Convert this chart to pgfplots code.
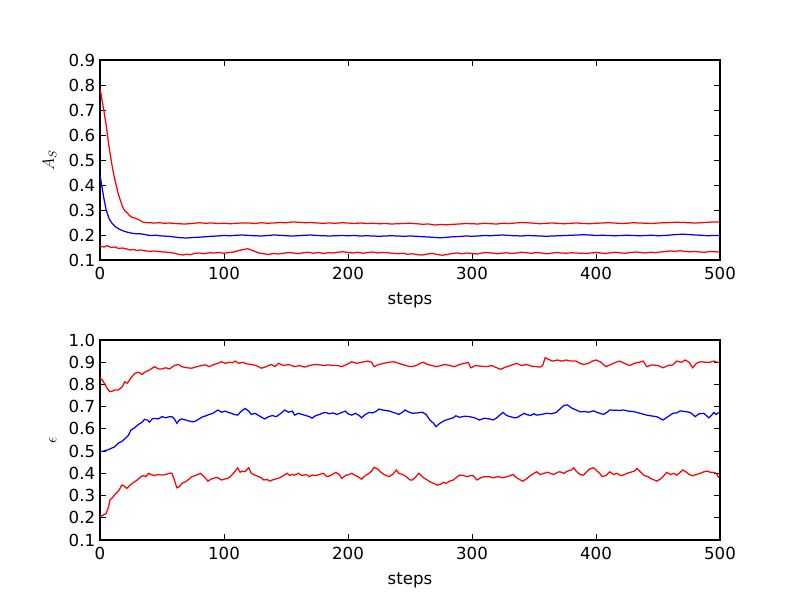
\documentclass[border=0pt]{standalone}
\usepackage{fontspec}
\setmainfont{DejaVu Sans}
\usepackage{pgfplots}
\pgfplotsset{compat=1.18}
\definecolor{mred}{rgb}{1,0,0}
\definecolor{mblue}{rgb}{0,0,1}
\pgfplotsset{
  myax/.style={
    scale only axis, width=6.2in, height=2in,
    xmin=0, xmax=500, xtick={0,100,...,500},
    tick align=inside, xtick pos=both, ytick pos=both,
    major tick length=4pt,
    tick style={black, line width=0.6pt},
    axis line style={line width=0.8pt},
    ticklabel style={font=\fontsize{12}{14}\selectfont},
    xticklabel style={yshift=-1.5pt},
    label style={font=\fontsize{12}{14}\selectfont},
    xlabel style={yshift=-3pt},
    ylabel style={yshift=2pt},
    /pgf/number format/assume math mode=true,
    yticklabel style={/pgf/number format/fixed, /pgf/number format/precision=1, /pgf/number format/fixed zerofill},
    xlabel={steps},
    every axis plot/.append style={line width=0.9pt, mark=none},
  }
}
\begin{document}
\begin{tikzpicture}
\useasboundingbox (0,0) rectangle (8in,6in);
\begin{axis}[myax, at={(1in,3.4in)}, anchor=south west,
  ymin=0.1, ymax=0.9, ytick={0.1,0.2,...,0.9}, ylabel={$A_S$}]
\addplot[mred] coordinates {(0,0.785)(1,0.76)(2,0.73)(3,0.70)(4,0.67)(5,0.64)(6,0.60)(7,0.565)(8,0.53)(9,0.50)(10,0.47)(11,0.445)(12,0.42)(13,0.40)(14,0.38)(15,0.36)(16,0.345)(17,0.33)(18,0.315)(19,0.305)(20,0.297)(22,0.288)(24,0.277)(26,0.27)(28,0.268)(30,0.264)(32,0.26)(34,0.253)(36,0.25)(40,0.249)(44,0.248)(48,0.249)(52,0.247)(56,0.248)(60,0.246)(64,0.245)(68,0.244)(72,0.245)(76,0.247)(80,0.249)(85,0.247)(90,0.248)(95,0.246)(100,0.247)(105,0.245)(110,0.247)(115,0.248)(120,0.248)(125,0.246)(130,0.249)(135,0.247)(140,0.248)(145,0.25)(150,0.249)(155,0.252)(160,0.251)(165,0.249)(170,0.25)(175,0.248)(180,0.247)(185,0.248)(190,0.247)(195,0.249)(200,0.248)(205,0.246)(210,0.248)(215,0.246)(220,0.247)(225,0.245)(230,0.246)(235,0.244)(240,0.245)(245,0.246)(250,0.247)(255,0.245)(260,0.243)(265,0.244)(270,0.24)(275,0.242)(280,0.241)(285,0.243)(290,0.244)(295,0.246)(300,0.245)(305,0.244)(310,0.247)(315,0.245)(320,0.244)(325,0.247)(330,0.246)(335,0.248)(340,0.25)(345,0.249)(350,0.247)(355,0.245)(360,0.247)(365,0.248)(370,0.246)(375,0.245)(380,0.247)(385,0.248)(390,0.246)(395,0.245)(400,0.247)(405,0.248)(410,0.249)(415,0.248)(420,0.246)(425,0.247)(430,0.249)(435,0.248)(440,0.247)(445,0.246)(450,0.248)(455,0.249)(460,0.25)(465,0.251)(470,0.25)(475,0.249)(480,0.248)(485,0.249)(490,0.251)(495,0.252)(499,0.252)};
\addplot[mblue] coordinates {(0,0.44)(1,0.41)(2,0.38)(3,0.35)(4,0.325)(5,0.30)(6,0.285)(7,0.27)(8,0.26)(9,0.252)(10,0.245)(12,0.235)(14,0.228)(16,0.222)(18,0.218)(20,0.214)(23,0.21)(26,0.207)(29,0.205)(32,0.205)(35,0.203)(38,0.2)(41,0.198)(45,0.199)(50,0.196)(55,0.195)(60,0.192)(65,0.189)(70,0.188)(75,0.19)(80,0.191)(85,0.193)(90,0.195)(95,0.196)(100,0.198)(105,0.197)(110,0.199)(115,0.2)(120,0.198)(125,0.197)(130,0.196)(135,0.198)(140,0.2)(145,0.199)(150,0.197)(155,0.196)(160,0.197)(165,0.199)(170,0.2)(175,0.198)(180,0.197)(185,0.196)(190,0.197)(195,0.198)(200,0.197)(205,0.198)(210,0.196)(215,0.197)(220,0.196)(225,0.195)(230,0.196)(235,0.197)(240,0.196)(245,0.195)(250,0.196)(255,0.195)(260,0.193)(265,0.192)(270,0.19)(275,0.189)(280,0.191)(285,0.193)(290,0.194)(295,0.196)(300,0.195)(305,0.196)(310,0.198)(315,0.197)(320,0.199)(325,0.2)(330,0.198)(335,0.197)(340,0.196)(345,0.198)(350,0.197)(355,0.196)(360,0.195)(365,0.196)(370,0.197)(375,0.198)(380,0.199)(385,0.2)(390,0.201)(395,0.2)(400,0.198)(405,0.199)(410,0.198)(415,0.197)(420,0.198)(425,0.199)(430,0.198)(435,0.197)(440,0.198)(445,0.199)(450,0.197)(455,0.198)(460,0.2)(465,0.202)(470,0.203)(475,0.202)(480,0.2)(485,0.199)(490,0.197)(495,0.198)(499,0.198)};
\addplot[mred] coordinates {(0,0.155)(3,0.152)(6,0.157)(9,0.15)(12,0.152)(15,0.146)(18,0.148)(21,0.145)(24,0.14)(27,0.142)(30,0.138)(33,0.14)(36,0.137)(40,0.135)(44,0.136)(48,0.133)(52,0.132)(56,0.13)(60,0.127)(64,0.122)(67,0.12)(70,0.123)(73,0.121)(76,0.126)(80,0.128)(84,0.125)(88,0.129)(92,0.128)(96,0.13)(100,0.127)(104,0.13)(108,0.132)(112,0.138)(116,0.142)(119,0.145)(122,0.14)(125,0.134)(128,0.128)(132,0.125)(136,0.122)(140,0.126)(144,0.124)(148,0.127)(152,0.13)(156,0.128)(160,0.125)(164,0.129)(168,0.131)(172,0.127)(176,0.13)(180,0.126)(184,0.129)(188,0.128)(192,0.131)(196,0.133)(200,0.13)(204,0.128)(208,0.131)(212,0.127)(216,0.13)(220,0.132)(224,0.128)(228,0.13)(232,0.129)(236,0.127)(240,0.125)(244,0.127)(248,0.123)(252,0.125)(256,0.121)(260,0.12)(264,0.124)(268,0.126)(272,0.122)(276,0.119)(280,0.122)(284,0.126)(288,0.128)(292,0.125)(296,0.128)(300,0.126)(304,0.124)(308,0.128)(312,0.13)(316,0.128)(320,0.125)(324,0.127)(328,0.129)(332,0.126)(336,0.128)(340,0.131)(344,0.129)(348,0.127)(352,0.13)(356,0.128)(360,0.125)(364,0.127)(368,0.13)(372,0.128)(376,0.127)(380,0.129)(384,0.128)(388,0.127)(392,0.126)(396,0.128)(400,0.13)(404,0.128)(408,0.126)(412,0.129)(416,0.131)(420,0.128)(424,0.127)(428,0.13)(432,0.132)(436,0.13)(440,0.128)(444,0.131)(448,0.129)(452,0.132)(456,0.134)(460,0.136)(464,0.135)(468,0.137)(472,0.134)(476,0.133)(480,0.134)(484,0.132)(488,0.131)(492,0.134)(496,0.133)(499,0.132)};
\end{axis}
\begin{axis}[myax, at={(1in,0.6in)}, anchor=south west,
  ymin=0.1, ymax=1.0, ytick={0.1,0.2,...,1.0}, ylabel={$\epsilon$}]
\addplot[mred] coordinates {(0,0.83)(2,0.82)(4,0.80)(6,0.78)(8,0.767)(10,0.77)(12,0.775)(15,0.775)(18,0.79)(20,0.812)(22,0.805)(25,0.83)(28,0.85)(31,0.855)(34,0.845)(36,0.855)(40,0.865)(44,0.88)(47,0.87)(50,0.87)(53,0.875)(56,0.87)(60,0.885)(63,0.89)(66,0.88)(70,0.875)(74,0.873)(78,0.88)(82,0.885)(85,0.888)(88,0.88)(92,0.89)(95,0.895)(98,0.902)(101,0.895)(104,0.9)(107,0.898)(109,0.905)(112,0.895)(115,0.9)(118,0.893)(122,0.89)(126,0.885)(130,0.873)(134,0.88)(138,0.89)(141,0.88)(144,0.895)(148,0.885)(152,0.89)(157,0.88)(161,0.885)(165,0.878)(169,0.885)(173,0.89)(177,0.888)(181,0.885)(184,0.888)(188,0.885)(192,0.885)(195,0.88)(199,0.89)(203,0.902)(207,0.895)(211,0.9)(216,0.905)(219,0.9)(221,0.88)(225,0.89)(229,0.895)(233,0.9)(237,0.902)(241,0.895)(245,0.888)(248,0.883)(251,0.88)(255,0.885)(258,0.895)(261,0.9)(264,0.89)(268,0.885)(271,0.88)(275,0.885)(278,0.89)(282,0.885)(286,0.88)(290,0.89)(294,0.895)(297,0.899)(299,0.875)(303,0.885)(307,0.882)(312,0.88)(316,0.885)(320,0.875)(323,0.868)(327,0.878)(331,0.885)(336,0.895)(340,0.885)(344,0.89)(348,0.882)(352,0.88)(355,0.878)(357,0.885)(359,0.92)(362,0.912)(365,0.905)(369,0.91)(372,0.905)(376,0.91)(380,0.905)(384,0.905)(387,0.895)(390,0.89)(394,0.895)(397,0.905)(400,0.91)(404,0.9)(408,0.88)(412,0.89)(416,0.9)(419,0.905)(423,0.895)(427,0.885)(431,0.895)(435,0.9)(438,0.905)(441,0.88)(445,0.888)(450,0.885)(454,0.875)(458,0.885)(462,0.888)(465,0.905)(469,0.9)(472,0.91)(475,0.9)(478,0.875)(481,0.895)(484,0.902)(488,0.9)(492,0.9)(495,0.905)(499,0.898)};
\addplot[mblue] coordinates {(0,0.497)(3,0.50)(6,0.505)(9,0.512)(12,0.52)(15,0.537)(18,0.545)(21,0.56)(23,0.572)(25,0.595)(28,0.605)(31,0.62)(34,0.63)(36,0.643)(38,0.64)(40,0.63)(42,0.645)(44,0.647)(47,0.645)(50,0.655)(53,0.65)(56,0.655)(58,0.655)(60,0.645)(62,0.625)(64,0.64)(66,0.645)(69,0.64)(72,0.635)(75,0.632)(77,0.635)(80,0.645)(83,0.655)(85,0.658)(88,0.665)(91,0.67)(95,0.685)(98,0.675)(101,0.68)(103,0.675)(106,0.67)(108,0.665)(111,0.662)(114,0.68)(117,0.692)(120,0.68)(122,0.665)(125,0.67)(128,0.66)(131,0.65)(133,0.645)(136,0.655)(139,0.66)(142,0.655)(144,0.662)(147,0.675)(149,0.685)(152,0.675)(155,0.68)(157,0.662)(160,0.67)(163,0.665)(166,0.66)(169,0.655)(171,0.648)(174,0.66)(177,0.665)(180,0.672)(182,0.674)(185,0.668)(188,0.672)(191,0.665)(195,0.674)(198,0.68)(200,0.668)(203,0.662)(206,0.67)(209,0.66)(211,0.65)(214,0.665)(217,0.674)(220,0.672)(223,0.68)(225,0.689)(228,0.685)(231,0.682)(233,0.681)(236,0.675)(239,0.67)(241,0.665)(244,0.675)(246,0.685)(249,0.676)(252,0.67)(256,0.672)(260,0.675)(263,0.665)(266,0.64)(269,0.625)(271,0.61)(274,0.625)(277,0.635)(279,0.64)(282,0.645)(285,0.65)(287,0.659)(290,0.652)(294,0.657)(298,0.655)(302,0.65)(306,0.64)(310,0.648)(314,0.645)(317,0.64)(320,0.65)(323,0.665)(325,0.674)(328,0.66)(331,0.655)(334,0.65)(336,0.65)(339,0.66)(342,0.67)(344,0.665)(347,0.66)(350,0.668)(352,0.662)(356,0.665)(360,0.67)(364,0.668)(368,0.674)(371,0.69)(374,0.705)(377,0.708)(380,0.695)(384,0.685)(387,0.677)(391,0.678)(394,0.675)(398,0.681)(402,0.672)(406,0.665)(409,0.675)(411,0.685)(415,0.684)(419,0.683)(422,0.685)(426,0.68)(430,0.678)(433,0.674)(437,0.668)(441,0.662)(445,0.658)(449,0.655)(454,0.64)(458,0.655)(462,0.67)(465,0.672)(468,0.681)(472,0.678)(476,0.674)(478,0.665)(480,0.655)(483,0.668)(487,0.67)(489,0.66)(491,0.65)(493,0.66)(495,0.674)(497,0.665)(499,0.674)};
\addplot[mred] coordinates {(0,0.205)(2,0.21)(5,0.22)(7,0.25)(8,0.28)(10,0.29)(12,0.305)(14,0.315)(16,0.33)(17.5,0.347)(19,0.345)(21.5,0.332)(24,0.345)(26,0.355)(28,0.362)(30,0.37)(33,0.385)(35,0.39)(37,0.385)(39,0.4)(41,0.395)(44,0.39)(47,0.395)(50,0.392)(53,0.395)(56,0.40)(58,0.40)(60,0.37)(62,0.335)(64,0.34)(66,0.355)(69,0.362)(72,0.375)(74,0.385)(77,0.39)(79,0.395)(81,0.40)(84,0.385)(87,0.365)(90,0.375)(93,0.38)(95,0.38)(98,0.37)(101,0.375)(103,0.377)(106,0.39)(109,0.41)(111,0.425)(113,0.405)(115,0.41)(117,0.407)(119,0.42)(120,0.425)(122,0.4)(125,0.392)(128,0.385)(130,0.38)(132,0.37)(135,0.372)(137,0.365)(139,0.37)(142,0.375)(145,0.38)(148,0.39)(151,0.4)(153,0.39)(155,0.395)(157,0.392)(160,0.40)(163,0.39)(166,0.395)(169,0.385)(171,0.392)(174,0.39)(177,0.395)(180,0.4)(183,0.385)(186,0.39)(190,0.404)(193,0.395)(195,0.377)(198,0.39)(201,0.395)(203,0.40)(206,0.39)(208,0.385)(211,0.374)(214,0.39)(217,0.40)(219,0.41)(221,0.427)(224,0.42)(226,0.407)(229,0.395)(231,0.39)(233,0.385)(236,0.395)(239,0.415)(241,0.40)(244,0.395)(247,0.385)(250,0.37)(252,0.37)(254,0.38)(257,0.40)(259,0.39)(261,0.38)(264,0.37)(266,0.362)(269,0.355)(272,0.347)(275,0.352)(277,0.36)(279,0.355)(282,0.365)(285,0.37)(287,0.38)(290,0.392)(293,0.39)(296,0.385)(299,0.39)(301,0.389)(304,0.37)(307,0.38)(310,0.385)(314,0.385)(317,0.38)(321,0.385)(325,0.38)(328,0.385)(331,0.39)(333,0.395)(336,0.38)(339,0.37)(341,0.365)(344,0.375)(347,0.39)(350,0.40)(352,0.407)(355,0.395)(358,0.4)(361,0.405)(363,0.40)(366,0.395)(369,0.405)(371,0.407)(374,0.40)(377,0.41)(380,0.415)(382,0.425)(384,0.41)(387,0.395)(390,0.392)(393,0.41)(395,0.42)(398,0.425)(401,0.41)(403,0.40)(405,0.385)(408,0.39)(411,0.407)(414,0.395)(417,0.40)(420,0.39)(422,0.392)(425,0.40)(428,0.405)(431,0.41)(433,0.422)(436,0.405)(439,0.39)(442,0.385)(444,0.377)(447,0.37)(449,0.365)(452,0.375)(454,0.385)(457,0.404)(460,0.395)(463,0.40)(465,0.392)(467,0.40)(470,0.415)(473,0.405)(475,0.395)(478,0.389)(481,0.395)(484,0.40)(487,0.407)(490,0.41)(492,0.405)(495,0.404)(497,0.40)(499,0.38)};
\end{axis}
\end{tikzpicture}
\end{document}
